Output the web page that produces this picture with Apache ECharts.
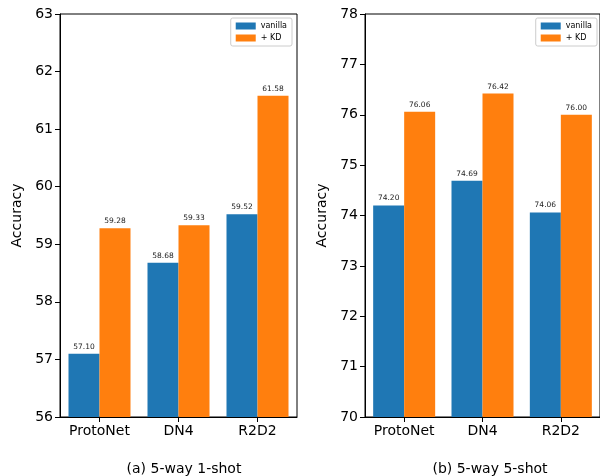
<!DOCTYPE html>
<html><head><meta charset="utf-8">
<script src="https://cdn.jsdelivr.net/npm/echarts@6/dist/echarts.min.js"></script>
<style>html,body{margin:0;padding:0;background:#fff}#c{width:600px;height:476px}</style>
</head><body><div id="c"></div>
<script>
const categories = ['ProtoNet', 'DN4', 'R2D2'];
const vanilla1 = [57.10, 58.68, 59.52];
const kd1 = [59.28, 59.33, 61.58];
const vanilla5 = [74.20, 74.69, 74.06];
const kd5 = [76.06, 76.42, 76.00];
const seriesNames = ['vanilla', '+ KD'];
const subTitles = ['(a) 5-way 1-shot', '(b) 5-way 5-shot'];
const yRanges = [[56, 63], [70, 78]];

const FONT = 'DejaVu Sans';
const BLUE = '#1f77b4', ORANGE = '#ff7f0e';
const chart = echarts.init(document.getElementById('c'), null, {renderer: 'canvas'});

function xAxis(gi) {
  return {
    type: 'category', gridIndex: gi, data: categories,
    axisLine: {show: true, lineStyle: {color: '#000', width: 1}},
    axisTick: {show: true, alignWithLabel: true, interval: 0, length: 5, lineStyle: {color: '#000'}},
    axisLabel: {interval: 0, fontFamily: FONT, fontSize: 14, color: '#000', margin: 7}
  };
}
function yAxis(gi, r) {
  return {
    type: 'value', gridIndex: gi, min: r[0], max: r[1], interval: 1,
    name: 'Accuracy', nameLocation: 'middle', nameGap: 36,
    nameTextStyle: {fontFamily: FONT, fontSize: 14, color: '#000'},
    splitLine: {show: false},
    axisLine: {show: true, lineStyle: {color: '#000', width: 1}},
    axisTick: {show: true, length: 5, lineStyle: {color: '#000'}},
    axisLabel: {fontFamily: FONT, fontSize: 14, color: '#000', margin: 7}
  };
}
function bar(name, data, color, gi) {
  return {
    type: 'bar', name: name, data: data, xAxisIndex: gi, yAxisIndex: gi,
    barWidth: 31, barGap: '0%',
    itemStyle: {color: color},
    label: {show: true, position: 'top', distance: 3, fontFamily: FONT, fontSize: 7.5, color: '#222',
      formatter: p => p.value.toFixed(2)},
    emphasis: {disabled: true}
  };
}
function legend(right) {
  return {
    data: seriesNames,
    right: right, top: 18, orient: 'vertical', itemGap: 4,
    itemWidth: 20, itemHeight: 7, icon: 'rect',
    textStyle: {fontFamily: FONT, fontSize: 8, color: '#000'},
    borderColor: '#ccc', borderWidth: 1, borderRadius: 2, padding: [4, 5, 4, 5],
    backgroundColor: 'rgba(255,255,255,0.8)'
  };
}

chart.setOption({
  animation: false,
  backgroundColor: '#fff',
  color: [BLUE, ORANGE],
  grid: [
    {left: 60, top: 14, width: 237, height: 403, show: true, borderColor: '#000', borderWidth: 1},
    {left: 365, top: 14, width: 239, height: 403, show: true, borderColor: '#000', borderWidth: 1}
  ],
  title: [
    {text: subTitles[0], left: 179, top: 457, textAlign: 'center', textStyle: {fontFamily: FONT, fontSize: 14, fontWeight: 'normal', color: '#000'}},
    {text: subTitles[1], left: 485, top: 457, textAlign: 'center', textStyle: {fontFamily: FONT, fontSize: 14, fontWeight: 'normal', color: '#000'}}
  ],
  legend: [legend(308), legend(3)],
  xAxis: [xAxis(0), xAxis(1)],
  yAxis: [yAxis(0, yRanges[0]), yAxis(1, yRanges[1])],
  series: [
    bar(seriesNames[0], vanilla1, BLUE, 0),
    bar(seriesNames[1], kd1, ORANGE, 0),
    bar(seriesNames[0], vanilla5, BLUE, 1),
    bar(seriesNames[1], kd5, ORANGE, 1)
  ]
});
</script></body></html>
